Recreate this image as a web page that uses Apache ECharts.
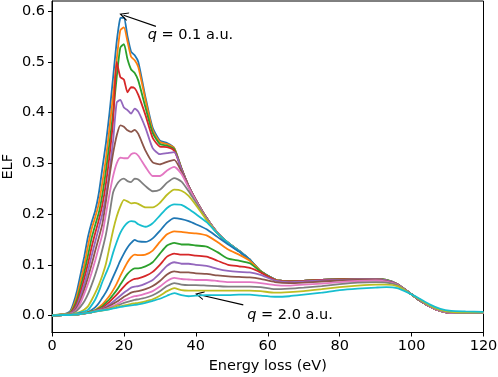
<!DOCTYPE html>
<html><head><meta charset="utf-8">
<script src="https://cdn.jsdelivr.net/npm/echarts@6/dist/echarts.min.js"></script>
<style>html,body{margin:0;padding:0;background:#fff}#c{width:498px;height:377px}</style>
</head><body><div id="c"></div>
<script>
// Energy loss grid (eV)
const energy = [0,3,5,6,7,8,9,10,11,12,13,14,15,16,17,18,19,20,21,22,23,24,26,28,30,32,34,36,38,40,43,46,49,52,55,58,62,66,70,75,80,85,90,93,96,99,102,105,108,111,115,120];
// ELF curves for q = 0.1 ... 2.0 a.u.
const elf_q01 = [0,0.002,0.008,0.025,0.05,0.083,0.117,0.155,0.183,0.206,0.24,0.29,0.34,0.40,0.47,0.54,0.586,0.587,0.55,0.52,0.513,0.50,0.43,0.37,0.345,0.34,0.33,0.29,0.255,0.228,0.192,0.163,0.143,0.128,0.11,0.086,0.071,0.067,0.068,0.070,0.071,0.072,0.072,0.070,0.062,0.047,0.031,0.018,0.009,0.005,0.005,0.005];
const elf_q02 = [0,0.002,0.006,0.019,0.04,0.07,0.1,0.137,0.17,0.193,0.22,0.262,0.31,0.37,0.435,0.505,0.562,0.568,0.54,0.51,0.503,0.49,0.425,0.365,0.342,0.338,0.33,0.29,0.255,0.228,0.192,0.163,0.143,0.127,0.11,0.087,0.071,0.067,0.068,0.070,0.071,0.072,0.072,0.070,0.062,0.047,0.031,0.018,0.009,0.005,0.005,0.005];
const elf_q03 = [0,0.002,0.005,0.015,0.032,0.058,0.086,0.118,0.152,0.178,0.202,0.238,0.285,0.34,0.40,0.47,0.528,0.535,0.505,0.485,0.478,0.463,0.41,0.36,0.338,0.335,0.328,0.29,0.255,0.228,0.192,0.163,0.143,0.127,0.11,0.087,0.071,0.067,0.068,0.070,0.071,0.072,0.072,0.070,0.062,0.047,0.031,0.018,0.009,0.005,0.005,0.005];
const elf_q04 = [0,0.002,0.004,0.012,0.026,0.048,0.074,0.102,0.134,0.162,0.188,0.218,0.26,0.315,0.385,0.50,0.47,0.465,0.44,0.45,0.448,0.435,0.395,0.35,0.333,0.332,0.325,0.289,0.255,0.228,0.192,0.163,0.143,0.127,0.11,0.087,0.071,0.067,0.068,0.070,0.071,0.072,0.072,0.069,0.061,0.047,0.031,0.018,0.009,0.005,0.005,0.005];
const elf_q05 = [0,0.002,0.004,0.009,0.021,0.04,0.062,0.088,0.117,0.145,0.172,0.20,0.237,0.285,0.345,0.42,0.425,0.41,0.405,0.398,0.408,0.402,0.37,0.33,0.318,0.32,0.322,0.288,0.255,0.228,0.192,0.163,0.143,0.127,0.11,0.087,0.071,0.067,0.068,0.070,0.071,0.072,0.072,0.069,0.061,0.047,0.031,0.018,0.009,0.005,0.005,0.005];
const elf_q06 = [0,0.002,0.003,0.007,0.017,0.032,0.052,0.075,0.10,0.127,0.153,0.18,0.225,0.275,0.32,0.355,0.375,0.372,0.365,0.362,0.366,0.358,0.325,0.302,0.298,0.303,0.307,0.284,0.254,0.227,0.192,0.163,0.143,0.127,0.11,0.087,0.071,0.067,0.068,0.070,0.071,0.072,0.072,0.069,0.061,0.047,0.031,0.018,0.009,0.005,0.005,0.005];
const elf_q07 = [0,0.002,0.003,0.006,0.013,0.026,0.043,0.062,0.084,0.108,0.134,0.16,0.20,0.24,0.275,0.30,0.311,0.31,0.31,0.318,0.32,0.315,0.293,0.275,0.275,0.286,0.293,0.279,0.252,0.226,0.191,0.163,0.143,0.127,0.11,0.087,0.071,0.067,0.068,0.070,0.071,0.071,0.071,0.069,0.061,0.047,0.031,0.018,0.009,0.005,0.005,0.005];
const elf_q08 = [0,0.002,0.002,0.005,0.01,0.018,0.028,0.042,0.06,0.08,0.103,0.13,0.16,0.20,0.243,0.258,0.267,0.27,0.265,0.263,0.27,0.268,0.255,0.245,0.248,0.262,0.271,0.264,0.245,0.223,0.19,0.162,0.143,0.127,0.11,0.087,0.071,0.067,0.068,0.070,0.071,0.071,0.071,0.069,0.061,0.047,0.031,0.018,0.009,0.005,0.005,0.005];
const elf_q09 = [0,0.002,0.002,0.003,0.005,0.008,0.012,0.018,0.03,0.044,0.06,0.079,0.102,0.135,0.168,0.195,0.215,0.228,0.225,0.221,0.222,0.22,0.213,0.213,0.222,0.238,0.248,0.246,0.236,0.218,0.188,0.162,0.143,0.127,0.11,0.087,0.071,0.067,0.068,0.070,0.071,0.071,0.071,0.069,0.061,0.047,0.031,0.018,0.009,0.005,0.005,0.005];
const elf_q10 = [0,0.001,0.002,0.003,0.004,0.006,0.008,0.011,0.02,0.031,0.047,0.066,0.083,0.10,0.124,0.145,0.163,0.175,0.183,0.186,0.185,0.18,0.175,0.182,0.197,0.212,0.219,0.218,0.21,0.20,0.184,0.162,0.143,0.127,0.11,0.088,0.071,0.067,0.068,0.070,0.071,0.071,0.071,0.069,0.061,0.047,0.031,0.018,0.009,0.005,0.005,0.005];
const elf_q11 = [0,0.001,0.002,0.002,0.003,0.004,0.005,0.007,0.011,0.016,0.024,0.035,0.046,0.06,0.076,0.092,0.108,0.122,0.134,0.143,0.149,0.146,0.145,0.152,0.167,0.183,0.192,0.19,0.186,0.18,0.17,0.155,0.14,0.126,0.11,0.088,0.071,0.067,0.068,0.070,0.071,0.071,0.071,0.069,0.061,0.047,0.031,0.018,0.009,0.005,0.005,0.005];
const elf_q12 = [0,0.001,0.002,0.002,0.002,0.003,0.004,0.006,0.008,0.011,0.016,0.022,0.03,0.039,0.05,0.063,0.078,0.092,0.105,0.115,0.12,0.119,0.12,0.128,0.145,0.16,0.166,0.165,0.163,0.162,0.158,0.145,0.13,0.12,0.108,0.088,0.071,0.067,0.068,0.070,0.071,0.071,0.071,0.069,0.061,0.047,0.031,0.018,0.009,0.005,0.005,0.005];
const elf_q13 = [0,0.001,0.001,0.002,0.002,0.003,0.004,0.006,0.008,0.01,0.014,0.018,0.025,0.032,0.041,0.05,0.061,0.072,0.082,0.089,0.093,0.093,0.097,0.105,0.122,0.138,0.143,0.14,0.14,0.138,0.136,0.125,0.112,0.108,0.103,0.087,0.07,0.067,0.068,0.070,0.071,0.071,0.071,0.069,0.061,0.047,0.031,0.018,0.009,0.005,0.005,0.005];
const elf_q14 = [0,0.001,0.001,0.002,0.002,0.003,0.004,0.005,0.007,0.009,0.012,0.015,0.021,0.027,0.034,0.041,0.049,0.057,0.064,0.069,0.072,0.073,0.078,0.086,0.10,0.116,0.122,0.12,0.12,0.118,0.116,0.108,0.10,0.097,0.094,0.085,0.07,0.067,0.068,0.070,0.071,0.071,0.071,0.069,0.061,0.047,0.031,0.018,0.009,0.005,0.005,0.005];
const elf_q15 = [0,0.001,0.001,0.002,0.002,0.003,0.004,0.005,0.007,0.009,0.011,0.013,0.017,0.022,0.027,0.033,0.039,0.045,0.05,0.055,0.057,0.058,0.063,0.07,0.083,0.098,0.105,0.102,0.102,0.10,0.098,0.092,0.088,0.086,0.085,0.08,0.069,0.066,0.067,0.069,0.070,0.071,0.071,0.069,0.062,0.047,0.031,0.018,0.009,0.005,0.005,0.005];
const elf_q16 = [0,0.001,0.001,0.002,0.002,0.003,0.004,0.005,0.006,0.008,0.01,0.012,0.015,0.019,0.023,0.027,0.032,0.037,0.041,0.045,0.047,0.048,0.052,0.058,0.068,0.081,0.087,0.085,0.085,0.083,0.082,0.079,0.077,0.076,0.075,0.072,0.066,0.064,0.065,0.067,0.069,0.070,0.070,0.068,0.062,0.047,0.031,0.018,0.009,0.005,0.005,0.005];
const elf_q17 = [0,0.001,0.001,0.002,0.002,0.003,0.004,0.005,0.006,0.008,0.01,0.011,0.013,0.016,0.019,0.022,0.026,0.03,0.033,0.036,0.038,0.039,0.043,0.048,0.057,0.068,0.074,0.072,0.071,0.07,0.07,0.068,0.066,0.066,0.066,0.064,0.06,0.059,0.061,0.063,0.066,0.068,0.069,0.067,0.061,0.047,0.032,0.018,0.009,0.005,0.005,0.005];
const elf_q18 = [0,0.001,0.001,0.002,0.002,0.003,0.004,0.005,0.006,0.008,0.009,0.01,0.012,0.014,0.016,0.019,0.022,0.025,0.027,0.029,0.031,0.032,0.035,0.04,0.048,0.058,0.064,0.061,0.06,0.06,0.059,0.058,0.057,0.057,0.057,0.056,0.052,0.053,0.055,0.058,0.062,0.065,0.066,0.065,0.06,0.047,0.032,0.019,0.01,0.006,0.005,0.005];
const elf_q19 = [0,0.001,0.001,0.002,0.002,0.003,0.004,0.005,0.006,0.008,0.009,0.01,0.011,0.013,0.015,0.02,0.018,0.02,0.021,0.023,0.024,0.025,0.028,0.032,0.039,0.048,0.054,0.05,0.049,0.049,0.049,0.049,0.049,0.049,0.049,0.048,0.045,0.046,0.048,0.052,0.056,0.059,0.061,0.061,0.058,0.046,0.033,0.02,0.011,0.007,0.006,0.006];
const elf_q20 = [0,0.001,0.001,0.002,0.002,0.003,0.004,0.005,0.006,0.008,0.009,0.01,0.011,0.012,0.014,0.015,0.017,0.018,0.019,0.02,0.021,0.022,0.025,0.029,0.033,0.039,0.044,0.04,0.038,0.039,0.04,0.04,0.04,0.041,0.041,0.039,0.037,0.038,0.041,0.045,0.05,0.053,0.055,0.056,0.054,0.045,0.034,0.022,0.013,0.009,0.008,0.007];

const curves = [elf_q01,elf_q02,elf_q03,elf_q04,elf_q05,elf_q06,elf_q07,elf_q08,elf_q09,elf_q10,
                elf_q11,elf_q12,elf_q13,elf_q14,elf_q15,elf_q16,elf_q17,elf_q18,elf_q19,elf_q20];
const qLabels = ['0.1','0.2','0.3','0.4','0.5','0.6','0.7','0.8','0.9','1.0','1.1','1.2','1.3','1.4','1.5','1.6','1.7','1.8','1.9','2.0'];
const xTicks = [0,20,40,60,80,100,120];
const yTicks = [0,0.1,0.2,0.3,0.4,0.5,0.6];
// annotations: text anchor, arrow start, arrow end (data coordinates)
const annTop = {text:'0.1', at:[26.6,0.553], from:[28.9,0.570], to:[19.9,0.592]};
const annBot = {text:'2.0', at:[54.3,0.000], from:[53.2,0.021], to:[41.0,0.041]};

const colors = ['#1f77b4','#ff7f0e','#2ca02c','#d62728','#9467bd','#8c564b','#e377c2','#7f7f7f','#bcbd22','#17becf'];
const FONT = 'DejaVu Sans';
const FS = 14.5;
const arrowHead = 'path://M0,10 L5,0 L10,10 L8.6,10 L5,2.8 L1.4,10 Z';

function ann(a){
  return {
    markLine:{silent:true,animation:false,symbol:['none',arrowHead],symbolSize:[9,9],
      lineStyle:{color:'#000',width:1.1,type:'solid'},label:{show:false},emphasis:{disabled:true},
      data:[[{coord:a.from},{coord:a.to}]]},
    markPoint:{silent:true,animation:false,symbol:'circle',symbolSize:0,
      label:{show:true,position:'right',distance:0,color:'#000',fontFamily:FONT,fontSize:FS,
        formatter:'{i|q} = '+a.text+' a.u.',rich:{i:{fontStyle:'italic',fontFamily:FONT,fontSize:FS,color:'#000'}}},
      data:[{coord:a.at}]}
  };
}

const series = curves.map((vals,i)=>{
  const s = {name:'q = '+qLabels[i],type:'line',data:energy.map((e,k)=>[e,vals[k]]),
    showSymbol:false,symbol:'none',smooth:0.2,lineStyle:{width:1.8,color:colors[i%10]},
    itemStyle:{color:colors[i%10]},z:2+i,animation:false,silent:true};
  if(i===0) Object.assign(s, ann(annTop));
  if(i===19) Object.assign(s, ann(annBot));
  return s;
});

const chart = echarts.init(document.getElementById('c'),null,{renderer:'canvas'});
chart.setOption({
  animation:false,
  backgroundColor:'#fff',
  grid:{left:52,right:14.5,top:1,bottom:44.5,show:true,borderColor:'#000',borderWidth:1,backgroundColor:'transparent',containLabel:false,outerBoundsMode:'none'},
  xAxis:{type:'value',min:0,max:120,interval:20,
    name:'Energy loss (eV)',nameLocation:'middle',nameGap:26,nameMoveOverlap:false,
    nameTextStyle:{color:'#000',fontFamily:FONT,fontSize:FS},
    axisLine:{show:true,onZero:false,lineStyle:{color:'#000',width:1}},
    axisTick:{show:true,inside:false,length:4,lineStyle:{color:'#000',width:1}},
    axisLabel:{color:'#000',fontFamily:FONT,fontSize:FS,margin:6,formatter:v=>String(v)},
    splitLine:{show:false}},
  yAxis:{type:'value',min:-0.0335,max:0.62,
    name:'ELF',nameLocation:'middle',nameGap:36,nameRotate:90,nameMoveOverlap:false,
    nameTextStyle:{color:'#000',fontFamily:FONT,fontSize:FS},
    axisLine:{show:true,onZero:false,lineStyle:{color:'#000',width:1}},
    axisTick:{show:true,inside:false,length:4,customValues:yTicks,lineStyle:{color:'#000',width:1}},
    axisLabel:{color:'#000',fontFamily:FONT,fontSize:FS,margin:7,customValues:yTicks,formatter:v=>v.toFixed(1)},
    splitLine:{show:false}},
  series:series
});
</script></body></html>
